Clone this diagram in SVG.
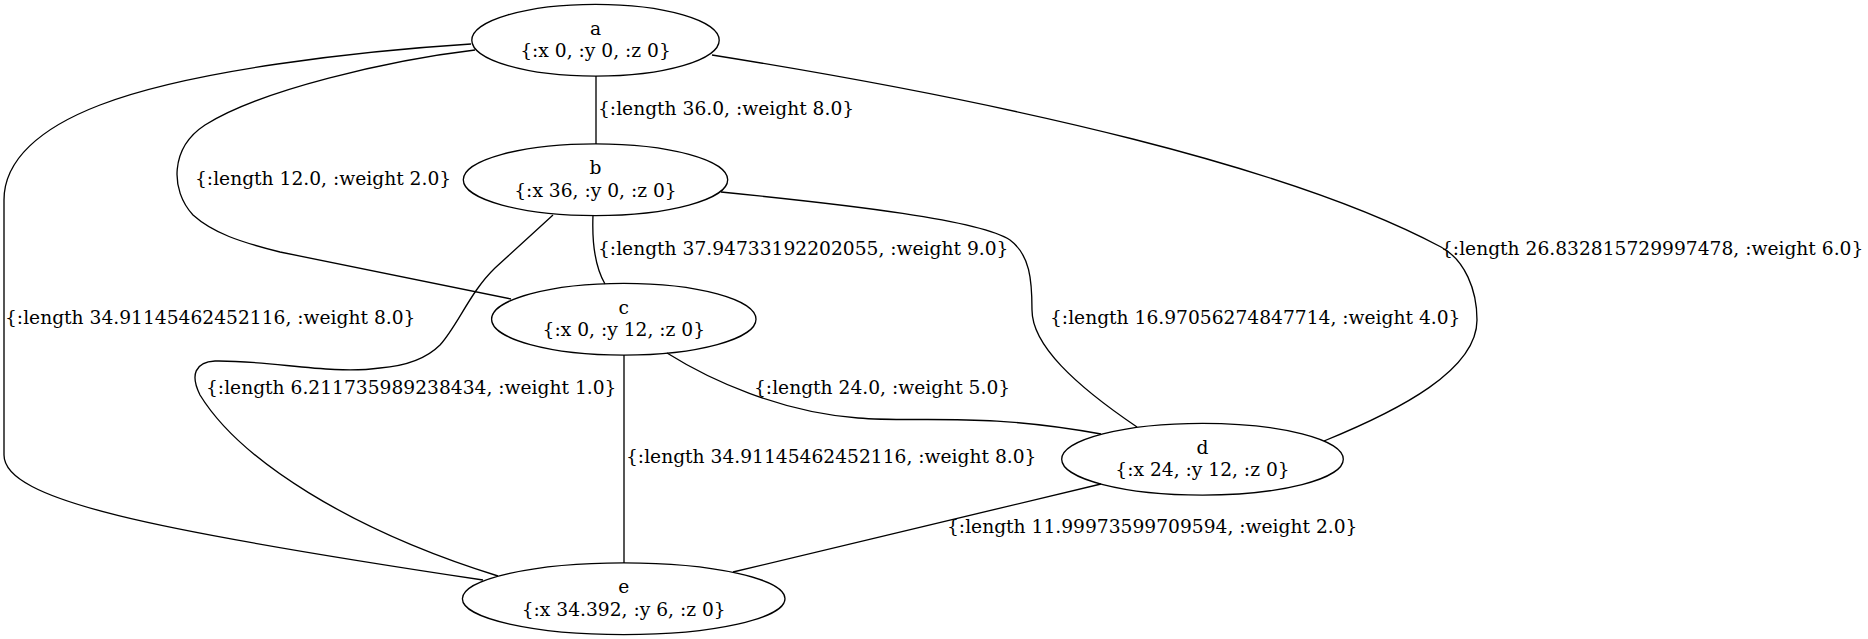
<svg xmlns="http://www.w3.org/2000/svg" width="1868" height="639" viewBox="0 0 1868 639">
<style>
text{font-family:"DejaVu Serif","Liberation Serif",serif;font-size:18.67px;fill:#000}
.n text{text-anchor:middle}
ellipse{fill:none;stroke:#000;stroke-width:1.33}
#edges path{fill:none;stroke:#000;stroke-width:1.33}
</style>
<rect width="1868" height="639" fill="#fff"/>
<g id="edges">
<path d="M596,76 L596,144"/>
<path d="M593,215 C592,240 594,265 605,284"/>
<path d="M624,355 L624,563"/>
<path d="M1101,484 L733,572"/>
<path d="M475,50 C390,60 260,90 205,125 C170,148 170,190 193,215 C213,233 240,242 280,252 L511,299"/>
<path d="M471,44 C360,51 190,70 100,105 C40,128 4,160 4,200 L4,455 C4,500 150,530 483,580"/>
<path d="M712,55 C1012,103 1291,167 1441,247 C1465,260 1477,290 1477,320 C1477,370 1400,410 1324,441"/>
<path d="M721,192 C850,205 980,220 1010,240 C1030,255 1032,280 1032,310 C1032,345 1075,385 1137,427"/>
<path d="M553,215 L495,268 C470,292 458,325 440,345 C425,360 405,366 380,368 C330,375 270,360 215,361 C195,362 190,375 200,395 C240,460 350,530 498,576"/>
<path d="M667,353 C710,380 780,412 858,418 C920,423 980,412 1101,434"/>
<text x="598" y="115">{:length 36.0, :weight 8.0}</text>
<text x="598" y="255">{:length 37.94733192202055, :weight 9.0}</text>
<text x="195" y="185">{:length 12.0, :weight 2.0}</text>
<text x="5" y="324">{:length 34.91145462452116, :weight 8.0}</text>
<text x="1441" y="255">{:length 26.832815729997478, :weight 6.0}</text>
<text x="1050" y="324">{:length 16.97056274847714, :weight 4.0}</text>
<text x="206" y="394">{:length 6.211735989238434, :weight 1.0}</text>
<text x="754" y="394">{:length 24.0, :weight 5.0}</text>
<text x="626" y="463">{:length 34.91145462452116, :weight 8.0}</text>
<text x="947" y="533">{:length 11.99973599709594, :weight 2.0}</text>
</g>
<g id="a" class="n"><ellipse cx="595.5" cy="40.2" rx="123.7" ry="35.9"/><text x="595.5" y="34.6">a</text><text x="595.5" y="57">{:x 0, :y 0, :z 0}</text></g>
<g id="b" class="n"><ellipse cx="595.5" cy="179.7" rx="132.2" ry="35.9"/><text x="595.5" y="174.1">b</text><text x="595.5" y="196.5">{:x 36, :y 0, :z 0}</text></g>
<g id="c" class="n"><ellipse cx="623.8" cy="319.2" rx="132.2" ry="35.9"/><text x="623.8" y="313.6">c</text><text x="623.8" y="336">{:x 0, :y 12, :z 0}</text></g>
<g id="d" class="n"><ellipse cx="1202.5" cy="459.2" rx="140.8" ry="35.9"/><text x="1202.5" y="453.6">d</text><text x="1202.5" y="476">{:x 24, :y 12, :z 0}</text></g>
<g id="e" class="n"><ellipse cx="623.7" cy="598.7" rx="161.3" ry="35.9"/><text x="623.7" y="593.1">e</text><text x="623.7" y="615.5">{:x 34.392, :y 6, :z 0}</text></g>
</svg>
